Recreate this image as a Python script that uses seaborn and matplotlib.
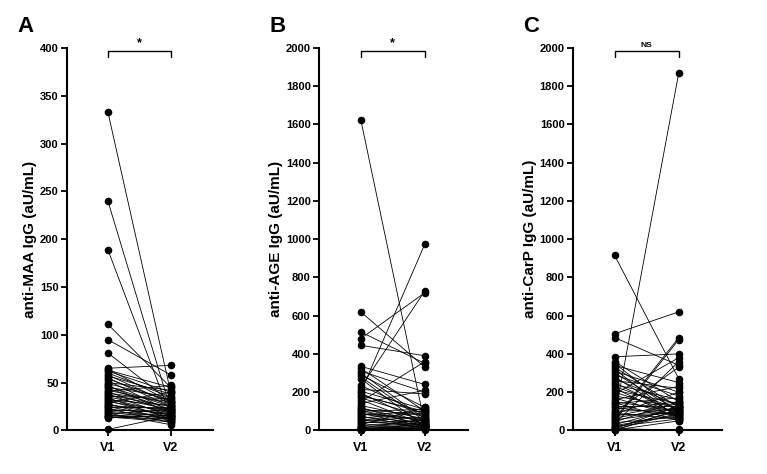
import numpy as np
import pandas as pd
import matplotlib
matplotlib.use("Agg")
import matplotlib.pyplot as plt
import seaborn as sns

# values (paired V1 -> V2 per subject)
maa_v1 = [333, 240, 189, 111, 95, 81, 1, 65, 64, 63, 62, 60, 58, 57, 55, 54, 52, 50, 49, 47,
          46, 45, 44, 42, 41, 40, 39, 38, 37, 36, 35, 34, 33, 32, 31, 30, 29, 28, 27, 26,
          25, 24, 23, 22, 21, 20, 19, 18, 17, 16, 15, 15, 14, 14, 13]
maa_v2 = [40, 22, 15, 45, 58, 30, 15, 68, 30, 45, 40, 35, 28, 38, 25, 30, 20, 42, 32, 18,
          25, 35, 22, 28, 47, 20, 30, 15, 25, 33, 22, 12, 18, 26, 14, 20, 40, 10, 16, 22,
          12, 24, 8, 18, 20, 15, 12, 6, 22, 10, 14, 18, 12, 9, 16]

age_v1 = [1625, 620, 515, 480, 445, 335, 325, 310, 300, 290, 280, 270, 235, 225, 215, 205, 200, 195, 185, 180,
          170, 160, 150, 140, 130, 120, 115, 110, 105, 100, 95, 90, 85, 80, 75, 70, 65, 60, 55, 50,
          45, 40, 35, 30, 25, 20, 15, 12, 10, 8, 5, 3, 2, 1, 0]
age_v2 = [30, 330, 350, 720, 390, 240, 100, 200, 60, 120, 50, 20, 80, 730, 190, 110, 975, 40, 90, 100,
          70, 30, 360, 210, 60, 20, 45, 80, 30, 110, 50, 20, 60, 100, 10, 40, 90, 30, 15, 70,
          25, 50, 10, 120, 40, 5, 30, 60, 20, 10, 35, 15, 0, 25, 5]

carp_v1 = [915, 505, 485, 385, 360, 350, 340, 330, 320, 310, 300, 290, 280, 270, 260, 250, 240, 230, 220, 210,
           200, 190, 180, 170, 160, 150, 145, 140, 130, 120, 110, 100, 95, 90, 85, 80, 75, 70, 65, 60,
           55, 50, 45, 40, 35, 30, 25, 20, 15, 10, 8, 5, 3, 2, 0]
carp_v2 = [270, 620, 340, 400, 150, 90, 250, 120, 60, 200, 100, 180, 70, 130, 220, 80, 160, 110, 60, 140,
           90, 380, 120, 70, 230, 100, 50, 170, 130, 80, 150, 110, 330, 60, 200, 90, 140, 1870, 120, 485,
           100, 475, 150, 70, 360, 120, 80, 60, 100, 0, 130, 90, 5, 50, 110]

visits = ["V1", "V2"]

panels = [
    ("A", "anti-MAA IgG (aU/mL)", maa_v1, maa_v2, 400, 50, "*"),
    ("B", "anti-AGE IgG (aU/mL)", age_v1, age_v2, 2000, 200, "*"),
    ("C", "anti-CarP IgG (aU/mL)", carp_v1, carp_v2, 2000, 200, "NS"),
]

sns.set_theme(style="ticks")
plt.rcParams["font.family"] = ["Liberation Sans", "DejaVu Sans"]
plt.rcParams["font.weight"] = "bold"
for k in ["text.color", "axes.labelcolor", "xtick.color", "ytick.color", "axes.edgecolor"]:
    plt.rcParams[k] = "black"

fig = plt.figure(figsize=(7.67, 4.74), dpi=100)
lefts = [0.0874, 0.416, 0.747]
widths = [0.190, 0.194, 0.194]

for (letter, ylab, v1, v2, ymax, step, sig), left, w in zip(panels, lefts, widths):
    ax = fig.add_axes([left, 0.092, w, 0.807])
    n = len(v1)
    df = pd.DataFrame({
        "subject": list(range(n)) * 2,
        "visit": [0] * n + [1] * n,
        "value": v1 + v2,
    })
    sns.lineplot(data=df, x="visit", y="value", units="subject", estimator=None,
                 color="black", lw=0.6, ax=ax)
    sns.scatterplot(data=df, x="visit", y="value", color="black", s=30,
                    edgecolor="black", linewidth=0, ax=ax, zorder=3, clip_on=False)
    ax.set_xlim(-0.65, 1.67)
    ax.set_ylim(0, ymax)
    ax.set_yticks(np.arange(0, ymax + 1, step))
    ax.set_xticks([0, 1])
    ax.set_xticklabels(visits, fontsize=9, fontweight="bold")
    for t in ax.get_yticklabels():
        t.set_fontsize(8)
        t.set_fontweight("bold")
    ax.set_xlabel("")
    ax.set_ylabel(ylab, fontsize=11, fontweight="bold", labelpad=2)
    sns.despine(ax=ax)
    for s in ["left", "bottom"]:
        ax.spines[s].set_linewidth(1.5)
    ax.tick_params(axis="both", width=1.3, length=4, pad=2)
    ax.tick_params(axis="x", length=4, pad=4)

    # significance bracket
    yb = ymax * 0.992
    yt = ymax * 0.975
    ax.plot([0, 0, 1, 1], [yt, yb, yb, yt], color="black", lw=1, clip_on=False)
    fs = 9 if sig == "*" else 6
    ax.text(0.5, yb + ymax * 0.004, sig, ha="center", va="bottom", fontsize=fs,
            fontweight="bold")

    fig.text(left - 0.065, 0.945, letter, fontsize=16, fontweight="bold",
             ha="left", va="center")

fig.savefig("out.png", dpi=100)
